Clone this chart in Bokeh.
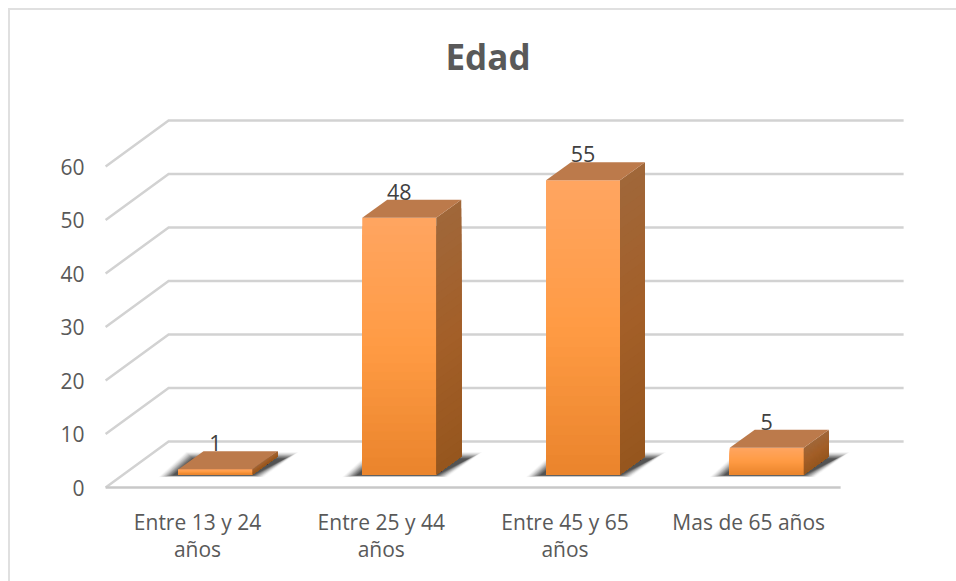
from bokeh.plotting import figure
from bokeh.embed import file_html
from bokeh.resources import INLINE
from bokeh.models import Range1d, FixedTicker, LinearAxis
from bokeh.core.properties import value

categories = ["Entre 13 y 24\naños", "Entre 25 y 44\naños", "Entre 45 y 65\naños", "Mas de 65 años"]
values = [1, 48, 55, 5]
y_ticks = [0, 10, 20, 30, 40, 50, 60]

FONT = "Open Sans"
PX_X = 183.75   # px per category
PX_Y = 5.35     # px per value unit


def ux(px):
    return px / PX_X


def uy(px):
    return px / PX_Y


def mix(a, b, t):
    ca = [int(a[i:i + 2], 16) for i in (1, 3, 5)]
    cb = [int(b[i:i + 2], 16) for i in (1, 3, 5)]
    return "#%02x%02x%02x" % tuple(round(x + (y - x) * t) for x, y in zip(ca, cb))


def ramp(stops, t):
    if t < 0.5:
        return mix(stops[0], stops[1], t * 2)
    return mix(stops[1], stops[2], (t - 0.5) * 2)


FRONT = ["#ffa561", "#ff9b44", "#ea842c"]
SIDE = ["#a0673a", "#a35f28", "#96561e"]
TOP = "#bc7a4b"
GRID = "#d2d2d2"

p = figure(frame_width=866, frame_height=400, output_backend="svg", toolbar_location=None,
           x_range=Range1d(ux(90 - 197), ux(956 - 197)),
           y_range=Range1d(uy(487 - 490), uy(487 - 90)),
           min_border_left=80, min_border_right=0, min_border_top=80, min_border_bottom=91,
           title="Edad")
p.margin = (8, 0, 0, 8)
p.styles = {"border-left": "2px solid #e0e0e0", "border-top": "2px solid #e0e0e0"}
p.outline_line_color = None
p.xgrid.visible = False
p.ygrid.visible = False
p.background_fill_color = "white"

p.title.align = "left"
p.title.offset = 355
p.title.text_font = FONT
p.title.text_font_style = "bold"
p.title.text_font_size = "35px"
p.title.text_color = "#595959"
p.title.standoff = 21

first_lines = {i: c.split("\n")[0] for i, c in enumerate(categories)}
second_lines = {i: c.split("\n")[1] for i, c in enumerate(categories) if "\n" in c}

p.xaxis.ticker = FixedTicker(ticks=list(first_lines))
p.xaxis.major_label_overrides = first_lines
p.yaxis.ticker = FixedTicker(ticks=y_ticks)
axis2 = LinearAxis(ticker=FixedTicker(ticks=list(second_lines)), major_label_overrides=second_lines)
p.add_layout(axis2, "below")
for ax in (p.xaxis[0], p.yaxis[0], axis2):
    ax.axis_line_color = None
    ax.major_tick_line_color = None
    ax.minor_tick_line_color = None
    ax.major_label_text_font = FONT
    ax.major_label_text_font_size = "21px"
    ax.major_label_text_color = "#595959"
p.yaxis.major_label_standoff = 0
p.xaxis[0].major_label_standoff = 11
axis2.major_label_standoff = -10

# walls and floor
left = -0.5
right = len(categories) - 0.5
DEPTH_X = ux(63)
DEPTH_Y = uy(46)
for v in y_ticks:
    p.line([left, left + DEPTH_X, right + DEPTH_X], [v, v + DEPTH_Y, v + DEPTH_Y],
           line_color=GRID, line_width=2.5, line_join="miter")
p.line([left, right], [0, 0], line_color="#c8c8c8", line_width=2.5)

BAR_DX = ux(18)
BAR_DY = uy(13)
BAR_W = ux(74)
TOP_DX = ux(25)
TOP_DY = uy(18)
BANDS = 30

# shadows
for i in range(len(values)):
    l = i + BAR_DX - BAR_W / 2
    r = i + BAR_DX + BAR_W / 2
    for k in range(12):
        e = 11 - k
        xs = [l - ux(6 + e * 1.3), r + ux(e), r + ux(33 + e * 1.2), l + ux(14 - e * 0.6)]
        ys = [BAR_DY - uy(1 + e * 0.15), BAR_DY - uy(1 + e * 0.15), BAR_DY + uy(16 + e * 0.6), BAR_DY + uy(16 + e * 0.6)]
        p.patch(xs, ys, fill_color="black", fill_alpha=0.025 + 0.011 * k, line_color=None)

# bars
for i, val in enumerate(values):
    l = i + BAR_DX - BAR_W / 2
    r = l + BAR_W
    b = BAR_DY
    t = BAR_DY + val
    for n in range(BANDS):
        y1 = t - (t - b) * n / BANDS
        c = ramp(FRONT, (n + 0.5) / BANDS)
        p.quad(left=l, right=r, top=y1, bottom=b, fill_color=c, line_color=None)
        c2 = ramp(SIDE, (n + 0.5) / BANDS)
        p.patch([r, r + TOP_DX, r + TOP_DX, r], [b, b + TOP_DY, y1 + TOP_DY, y1],
                fill_color=c2, line_color=None)
    p.patch([l, r, r + TOP_DX, l + TOP_DX], [t, t, t + TOP_DY, t + TOP_DY],
            fill_color=TOP, line_color=None)

# data labels
p.text(x=[i + BAR_DX for i in range(len(values))],
       y=[v + BAR_DY + uy(26) for v in values],
       text=[str(v) for v in values],
       text_font=value(FONT), text_font_size="21.5px", text_color="#404040",
       text_align="center", text_baseline="middle")

open("out.html", "w").write(file_html(p, INLINE))
